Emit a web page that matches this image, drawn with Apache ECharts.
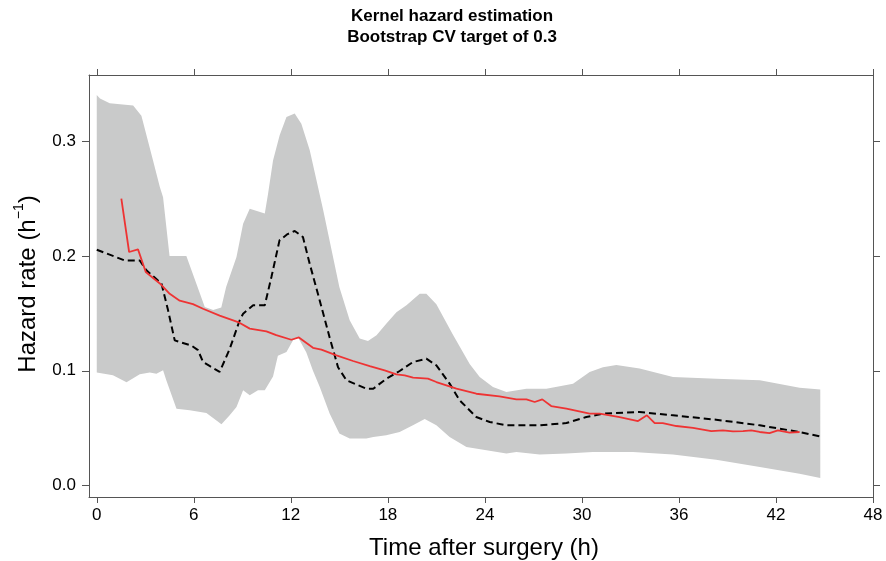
<!DOCTYPE html>
<html>
<head>
<meta charset="utf-8">
<script src="https://cdn.jsdelivr.net/npm/echarts@6/dist/echarts.min.js"></script>
<style>
  html, body { margin: 0; padding: 0; background: #fff; }
  #chart { width: 886px; height: 561px; }
</style>
</head>
<body>
<div id="chart"></div>
<script>
// tick labels
const xTicks = [0, 6, 12, 18, 24, 30, 36, 42, 48];
const yTicks = [0, 0.1, 0.2, 0.3];

// bootstrap band, upper edge [time, hazard]
const bandUpper = [
  [0, 0.340], [0.2, 0.337], [0.8, 0.333], [2.25, 0.331], [2.76, 0.322], [3.48, 0.283],
  [3.9, 0.26], [4.1, 0.251], [4.5, 0.200], [5.54, 0.200], [6.68, 0.1555], [7.2, 0.153],
  [7.7, 0.155], [8.0, 0.173], [8.64, 0.199], [9.05, 0.228], [9.46, 0.241], [10.39, 0.237],
  [10.59, 0.254], [10.9, 0.283], [11.31, 0.305], [11.73, 0.321], [12.24, 0.324],
  [12.65, 0.315], [13.17, 0.292], [14.0, 0.240], [15.0, 0.173], [15.64, 0.144],
  [16.26, 0.128], [16.77, 0.126], [17.3, 0.131], [17.9, 0.141], [18.53, 0.151],
  [19.15, 0.157], [19.97, 0.167], [20.38, 0.167], [21.0, 0.158], [22.0, 0.132],
  [23.06, 0.106], [23.68, 0.0945], [24.5, 0.0858], [25.33, 0.0815], [26.57, 0.0844],
  [27.8, 0.0844], [29.45, 0.0888], [30.48, 0.099], [31.3, 0.103], [32.13, 0.105],
  [33.57, 0.102], [35.63, 0.0945], [38.3, 0.093], [41.0, 0.0917], [43.46, 0.0853],
  [44.74, 0.0836]
];

// bootstrap band, lower edge [time, hazard]
const bandLower = [
  [0, 0.0984], [1.0, 0.096], [1.84, 0.090], [2.66, 0.097], [3.28, 0.0984], [3.69, 0.0975],
  [4.1, 0.1004], [4.3, 0.0917], [4.93, 0.067], [5.75, 0.0656], [6.78, 0.0632], [7.4, 0.0568],
  [7.71, 0.0534], [8.22, 0.0612], [8.64, 0.0684], [9.05, 0.083], [9.46, 0.0786],
  [9.97, 0.083], [10.39, 0.083], [10.9, 0.095], [11.2, 0.113], [11.73, 0.1163],
  [12.14, 0.1265], [12.45, 0.129], [12.96, 0.116], [13.37, 0.100], [13.79, 0.0858],
  [14.4, 0.0627], [15.0, 0.0453], [15.64, 0.041], [16.67, 0.041], [17.1, 0.0423],
  [17.9, 0.0438], [18.73, 0.0467], [19.55, 0.0525], [20.28, 0.058], [21.0, 0.0525],
  [21.82, 0.0423], [22.86, 0.0336], [24.1, 0.0307], [25.33, 0.0279], [25.95, 0.0293],
  [27.39, 0.0272], [29.04, 0.0279], [30.68, 0.0293], [33.16, 0.0293], [35.63, 0.027],
  [38.3, 0.0226], [41.0, 0.0162], [43.46, 0.0104], [44.74, 0.0066]
];

// dashed kernel estimate
const kernelHazard = [
  [0, 0.2054], [1.73, 0.196], [2.66, 0.196], [3.07, 0.1874], [4.0, 0.176], [4.41, 0.1526],
  [4.82, 0.1265], [5.13, 0.125], [5.85, 0.122], [6.26, 0.118], [6.57, 0.1076], [7.0, 0.104],
  [7.6, 0.099], [8.22, 0.119], [8.84, 0.144], [9.05, 0.1497], [9.67, 0.157], [10.39, 0.157],
  [10.8, 0.1816], [11.3, 0.2135], [11.8, 0.219], [12.24, 0.2217], [12.75, 0.2164],
  [13.17, 0.193], [13.79, 0.161], [14.4, 0.129], [14.92, 0.103], [15.44, 0.0917],
  [16.67, 0.0844], [17.1, 0.0844], [17.9, 0.093], [18.73, 0.0998], [19.55, 0.1076],
  [20.38, 0.1105], [21.0, 0.1047], [21.82, 0.0888], [22.44, 0.0743], [23.47, 0.0597],
  [24.3, 0.0554], [25.33, 0.0525], [27.39, 0.0525], [29.04, 0.0545], [30.27, 0.0597],
  [31.3, 0.0627], [33.57, 0.0641], [35.63, 0.0612], [38.3, 0.0574], [41.0, 0.0525],
  [43.46, 0.0467], [44.7, 0.0429]
];

// red estimate
const redHazard = [
  [1.52, 0.2498], [2.0, 0.2034], [2.55, 0.2057], [3.03, 0.186], [3.9, 0.176], [4.51, 0.167],
  [5.13, 0.161], [5.95, 0.158], [6.57, 0.154], [7.6, 0.148], [8.74, 0.1424], [9.46, 0.1367],
  [10.49, 0.1343], [11.1, 0.131], [12.03, 0.127], [12.5, 0.129], [13.37, 0.120],
  [13.89, 0.1184], [14.82, 0.1134], [15.85, 0.1085], [16.88, 0.1041], [17.8, 0.1004],
  [18.53, 0.0969], [19.04, 0.096], [19.56, 0.094], [20.48, 0.0931], [21.0, 0.0902],
  [22.24, 0.0844], [23.47, 0.080], [24.9, 0.0777], [25.95, 0.0751], [26.57, 0.0751],
  [27.08, 0.0728], [27.55, 0.0751], [28.1, 0.0693], [29.04, 0.067], [30.48, 0.0627],
  [31.1, 0.0627], [32.33, 0.0597], [33.47, 0.0562], [34.02, 0.0612], [34.5, 0.0545],
  [35.0, 0.0545], [35.84, 0.0519], [36.87, 0.0502], [38.0, 0.0475], [38.72, 0.0481],
  [39.34, 0.0473], [39.96, 0.0475], [40.47, 0.0481], [40.99, 0.0467], [41.6, 0.0458],
  [42.12, 0.0481], [42.84, 0.0461], [43.46, 0.0467]
];

const font = '"Liberation Sans", Arial, Helvetica, sans-serif';
const axisColor = '#555';

function xAxisCfg(position, showLabels) {
  return {
    type: 'value', position: position, min: -0.48, max: 48,
    axisLine: { show: true, onZero: false, lineStyle: { color: axisColor, width: 1 } },
    axisTick: { show: true, length: 6, customValues: xTicks, lineStyle: { color: axisColor } },
    axisLabel: { show: showLabels, customValues: xTicks, margin: 10, fontSize: 17, color: '#000', fontFamily: font },
    splitLine: { show: false }
  };
}

function yAxisCfg(position, showLabels) {
  return {
    type: 'value', position: position, min: -0.0099, max: 0.3575,
    axisLine: { show: true, onZero: false, lineStyle: { color: axisColor, width: 1 } },
    axisTick: { show: true, length: 7, customValues: yTicks, lineStyle: { color: axisColor } },
    axisLabel: {
      show: showLabels, customValues: yTicks, margin: 13, fontSize: 17, color: '#000', fontFamily: font,
      formatter: v => v.toFixed(1)
    },
    splitLine: { show: false }
  };
}

const chart = echarts.init(document.getElementById('chart'));
chart.setOption({
  animation: false,
  title: {
    text: 'Kernel hazard estimation\nBootstrap CV target of 0.3',
    left: 447, top: 1, textAlign: 'center',
    textStyle: { fontSize: 17, fontWeight: 'bold', color: '#000', fontFamily: font, lineHeight: 21 }
  },
  grid: { left: 89, top: 75, right: 13, bottom: 64 },
  xAxis: [xAxisCfg('bottom', true), xAxisCfg('top', false)],
  yAxis: [yAxisCfg('left', true), yAxisCfg('right', false)],
  graphic: [
    {
      type: 'text', x: 26, y: 284, rotation: Math.PI / 2,
      style: {
        text: '{a|Hazard rate (h}{s|\u22121}{a|)}',
        align: 'center', verticalAlign: 'middle',
        rich: {
          a: { fontSize: 24, fontFamily: font, fill: '#000', lineHeight: 28, verticalAlign: 'bottom' },
          s: { fontSize: 14, fontFamily: font, fill: '#000', lineHeight: 28, verticalAlign: 'top' }
        }
      }
    },
    {
      type: 'text', x: 484, y: 548,
      style: {
        text: 'Time after surgery (h)', fontSize: 24, fontFamily: font, fill: '#000',
        align: 'center', verticalAlign: 'middle'
      }
    }
  ],
  series: [
    {
      type: 'custom', silent: true, z: 1, clip: true,
      data: [[0, 0]],
      renderItem: (params, api) => {
        const pts = bandUpper.map(p => api.coord(p))
          .concat(bandLower.slice().reverse().map(p => api.coord(p)));
        return { type: 'polygon', shape: { points: pts }, style: { fill: '#c9caca', stroke: null } };
      }
    },
    {
      type: 'line', data: kernelHazard, showSymbol: false, z: 3,
      lineStyle: { color: '#000', width: 2, type: [7, 4] }
    },
    {
      type: 'line', data: redHazard, showSymbol: false, z: 4,
      lineStyle: { color: '#ee3333', width: 1.8 }
    }
  ]
});
</script>
</body>
</html>
